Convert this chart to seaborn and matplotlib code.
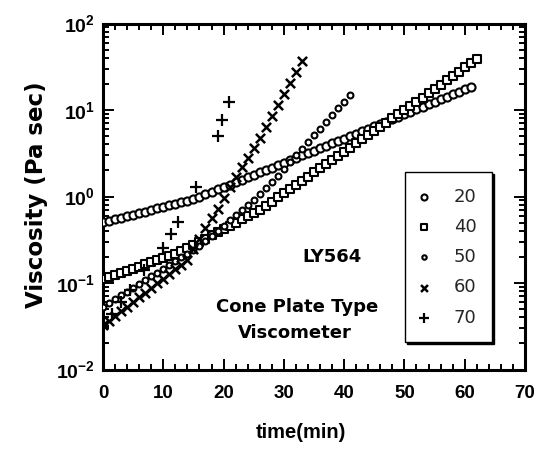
import numpy as np
import matplotlib
matplotlib.use("Agg")
import matplotlib.pyplot as plt
import seaborn as sns
from matplotlib.ticker import MultipleLocator, LogLocator, NullFormatter

# ---------------- data ----------------
t20 = list(range(0, 62))
v20 = [0.501, 0.522, 0.545, 0.568, 0.592, 0.617, 0.643, 0.670, 0.698, 0.728,
       0.759, 0.791, 0.824, 0.859, 0.895, 0.933, 0.995, 1.06, 1.13, 1.21,
       1.29, 1.37, 1.47, 1.56, 1.67, 1.78, 1.90, 2.02, 2.16, 2.30,
       2.46, 2.62, 2.79, 2.98, 3.18, 3.39, 3.61, 3.86, 4.11, 4.39,
       4.68, 4.99, 5.32, 5.68, 6.05, 6.46, 6.89, 7.35, 7.83, 8.36,
       8.91, 9.51, 10.2, 10.9, 11.6, 12.4, 13.3, 14.2, 15.2, 16.2,
       17.3, 18.5]

t40 = list(range(0, 63))
v40 = [0.110, 0.116, 0.123, 0.130, 0.138, 0.146, 0.155, 0.164, 0.174, 0.184,
       0.195, 0.207, 0.219, 0.232, 0.252, 0.275, 0.299, 0.326, 0.355, 0.386,
       0.421, 0.458, 0.499, 0.543, 0.592, 0.644, 0.701, 0.783, 0.875, 0.977,
       1.09, 1.22, 1.36, 1.52, 1.70, 1.90, 2.12, 2.37, 2.64, 2.95,
       3.30, 3.68, 4.11, 4.59, 5.13, 5.73, 6.40, 7.15, 7.98, 8.91,
       9.95, 11.1, 12.4, 13.9, 15.6, 17.5, 19.7, 22.1, 24.8, 27.8,
       31.2, 35.0, 39.3]

t50 = list(range(0, 42))
v50 = [0.0531, 0.0587, 0.0650, 0.0719, 0.0796, 0.0881, 0.0975, 0.108, 0.119, 0.132,
       0.146, 0.162, 0.179, 0.198, 0.219, 0.243, 0.269, 0.308, 0.352, 0.404,
       0.462, 0.530, 0.607, 0.695, 0.796, 0.912, 1.07, 1.26, 1.48, 1.74,
       2.08, 2.49, 2.98, 3.57, 4.27, 5.11, 6.11, 7.31, 8.75, 10.5,
       12.5, 15.0]

t60 = list(range(0, 34))
v60 = [0.0324, 0.0366, 0.0415, 0.0470, 0.0532, 0.0603, 0.0682, 0.0773, 0.0875, 0.0991,
       0.112, 0.127, 0.144, 0.163, 0.185, 0.245, 0.324, 0.437, 0.562, 0.724,
       0.955, 1.29, 1.70, 2.19, 2.82, 3.63, 4.79, 6.31, 8.51, 11.5,
       15.5, 20.4, 27.5, 37.2]

t70 = [0.0, 1.5, 3.0, 4.5, 6.8, 10.0, 11.3, 12.5, 15.4, 19.0, 19.7, 20.9]
v70 = [0.0316, 0.0437, 0.0603, 0.0832, 0.141, 0.254, 0.368, 0.512, 1.30, 5.00, 7.66, 12.4]

x_ticks = [0, 10, 20, 30, 40, 50, 60, 70]
y_ticks = [1e-2, 1e-1, 1e0, 1e1, 1e2]
y_tick_labels = [r'$\mathbf{10^{-2}}$', r'$\mathbf{10^{-1}}$', r'$\mathbf{10^{0}}$',
                 r'$\mathbf{10^{1}}$', r'$\mathbf{10^{2}}$']

# ---------------- style ----------------
sns.set_theme(style="ticks")
plt.rcParams['font.family'] = ['Liberation Sans', 'DejaVu Sans']
plt.rcParams['mathtext.fontset'] = 'custom'
plt.rcParams['mathtext.rm'] = 'Liberation Sans'
plt.rcParams['mathtext.bf'] = 'Liberation Sans:bold'
plt.rcParams['axes.linewidth'] = 2.0

fig = plt.figure(figsize=(5.37, 4.53), dpi=100)
ax = fig.add_axes([103 / 537, 1 - 369.5 / 453, 422 / 537, 346 / 453])

sns.scatterplot(x=t20, y=v20, marker='o', s=34, color='black', facecolor='white',
                edgecolor='black', linewidth=1.5, label='20', ax=ax, zorder=3)
sns.scatterplot(x=t40, y=v40, marker='s', s=30, color='black', facecolor='white',
                edgecolor='black', linewidth=1.5, label='40', ax=ax, zorder=3)
sns.scatterplot(x=t50, y=v50, marker='o', s=18, color='black', facecolor='white',
                edgecolor='black', linewidth=1.5, label='50', ax=ax, zorder=3)
sns.scatterplot(x=t60, y=v60, marker='x', s=44, color='black', linewidth=1.8,
                label='60', ax=ax, zorder=3)
sns.scatterplot(x=t70, y=v70, marker='+', s=80, color='black', linewidth=1.6,
                label='70', ax=ax, zorder=3)

ax.set_yscale('log')
ax.set_xlim(0, 70)
ax.set_ylim(1e-2, 1e2)

ax.set_xticks(x_ticks, labels=[str(v) for v in x_ticks])
ax.set_yticks(y_ticks, labels=y_tick_labels)
ax.xaxis.set_minor_locator(MultipleLocator(2))
ax.yaxis.set_minor_locator(LogLocator(base=10, subs=np.arange(2, 10), numticks=20))
ax.yaxis.set_minor_formatter(NullFormatter())
ax.tick_params(which='both', direction='in', top=True, right=True, width=1.4,
               color='black', labelcolor='black')
ax.tick_params(which='major', length=8, labelsize=13.5)
ax.tick_params(axis='y', which='major', labelsize=14)
ax.tick_params(axis='x', which='major', pad=11)
ax.tick_params(axis='y', which='major', pad=6)
ax.tick_params(which='minor', length=4.5)
for lbl in ax.get_xticklabels():
    lbl.set_fontweight('bold')
for sp in ax.spines.values():
    sp.set_color('black')
    sp.set_linewidth(2.2)

ax.set_xlabel('time(min)', fontsize=14.5, fontweight='bold', color='black')
ax.set_ylabel('Viscosity (Pa sec)', fontsize=16.5, fontweight='bold', color='black',
              family=['DejaVu Sans'])
ax.xaxis.set_label_coords((301 - 103) / 422, 1 - (432 - 23.5) / 346)
ax.xaxis.label.set_verticalalignment('center')
ax.yaxis.set_label_coords((37 - 103) / 422, 1 - (195 - 23.5) / 346)
ax.yaxis.label.set_verticalalignment('center')

ann_font = ['DejaVu Sans']
ax.text((332 - 103) / 422, 1 - (257 - 23.5) / 346, 'LY564', transform=ax.transAxes,
        ha='center', va='center', fontsize=13, fontweight='bold', color='black',
        family=ann_font)
ax.text((297 - 103) / 422, 1 - (307 - 23.5) / 346, 'Cone Plate Type', transform=ax.transAxes,
        ha='center', va='center', fontsize=13, fontweight='bold', color='black',
        family=ann_font)
ax.text((295 - 103) / 422, 1 - (333 - 23.5) / 346, 'Viscometer', transform=ax.transAxes,
        ha='center', va='center', fontsize=13, fontweight='bold', color='black',
        family=ann_font)

leg = ax.legend(loc='lower left', bbox_to_anchor=((405 - 103) / 422, 1 - (342 - 23.5) / 346),
                frameon=True, fancybox=False, edgecolor='black', framealpha=1,
                prop={'family': 'DejaVu Sans', 'size': 13},
                labelspacing=0.68, borderpad=0.85, handlelength=0.4,
                handletextpad=1.45, borderaxespad=0, markerscale=0.75, scatterpoints=1,
                shadow={'ox': 1.5, 'oy': -1.5, 'color': 'black', 'alpha': 1})
leg.get_frame().set_linewidth(1.0)

fig.savefig('out.png', dpi=100)
